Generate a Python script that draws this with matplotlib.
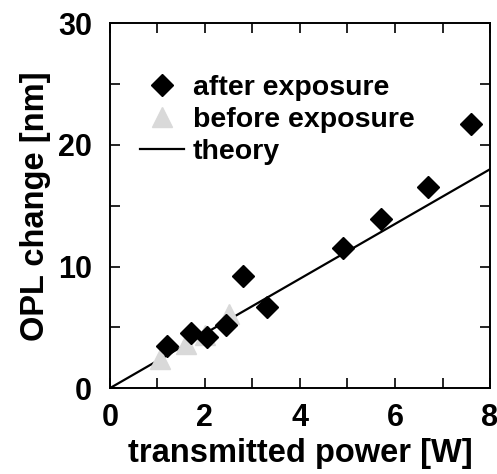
import numpy as np
import matplotlib.pyplot as plt
from matplotlib.ticker import MultipleLocator

# Data
after_power = [1.2, 1.7, 2.05, 2.45, 2.8, 3.3, 4.9, 5.7, 6.7, 7.6]
after_opl = [3.5, 4.5, 4.2, 5.2, 9.2, 6.7, 11.5, 13.9, 16.5, 21.7]

before_power = [1.05, 1.6, 2.0, 2.5]
before_opl = [2.4, 3.6, 4.4, 6.1]

theory_power = [0.0, 8.0]
theory_opl = [0.0, 18.0]

plt.rcParams['font.family'] = ['Liberation Sans', 'DejaVu Sans']
plt.rcParams['font.weight'] = 'bold'

fig = plt.figure(figsize=(4.97, 4.74), dpi=100)
ax = fig.add_axes([0.221, 0.181, 0.765, 0.770])

ax.plot(theory_power, theory_opl, color='black', linewidth=1.6, label='theory', zorder=2)
ax.plot(before_power, before_opl, linestyle='none', marker='^', markersize=15,
        color='#d9d9d9', label='before exposure', zorder=3)
ax.plot(after_power, after_opl, linestyle='none', marker='D', markersize=11,
        color='black', label='after exposure', zorder=4)

ax.set_xlim(0, 8)
ax.set_ylim(0, 30)
ax.xaxis.set_major_locator(MultipleLocator(2))
ax.xaxis.set_minor_locator(MultipleLocator(1))
ax.yaxis.set_major_locator(MultipleLocator(10))
ax.yaxis.set_minor_locator(MultipleLocator(5))
ax.tick_params(which='both', direction='in', top=True, right=True, width=1.2)
ax.tick_params(which='major', length=7, labelsize=22)
ax.tick_params(which='minor', length=7)
ax.tick_params(axis='x', which='major', pad=11)
ax.tick_params(axis='y', which='major', pad=13)
for s in ax.spines.values():
    s.set_linewidth(1.4)

ax.set_xlabel('transmitted power [W]', fontsize=23.5, fontweight='bold', labelpad=3)
ax.set_ylabel('OPL change [nm]', fontsize=23.5, fontweight='bold', labelpad=5)

handles, labels = ax.get_legend_handles_labels()
order = [2, 1, 0]
ax.legend([handles[i] for i in order], [labels[i] for i in order],
          loc='upper left', bbox_to_anchor=(0.05, 0.89), frameon=False,
          fontsize=20.5, handlelength=1.55, handletextpad=0.3,
          labelspacing=0.22, numpoints=1, borderaxespad=0)

fig.savefig('out.png', dpi=100)
plt.close(fig)
